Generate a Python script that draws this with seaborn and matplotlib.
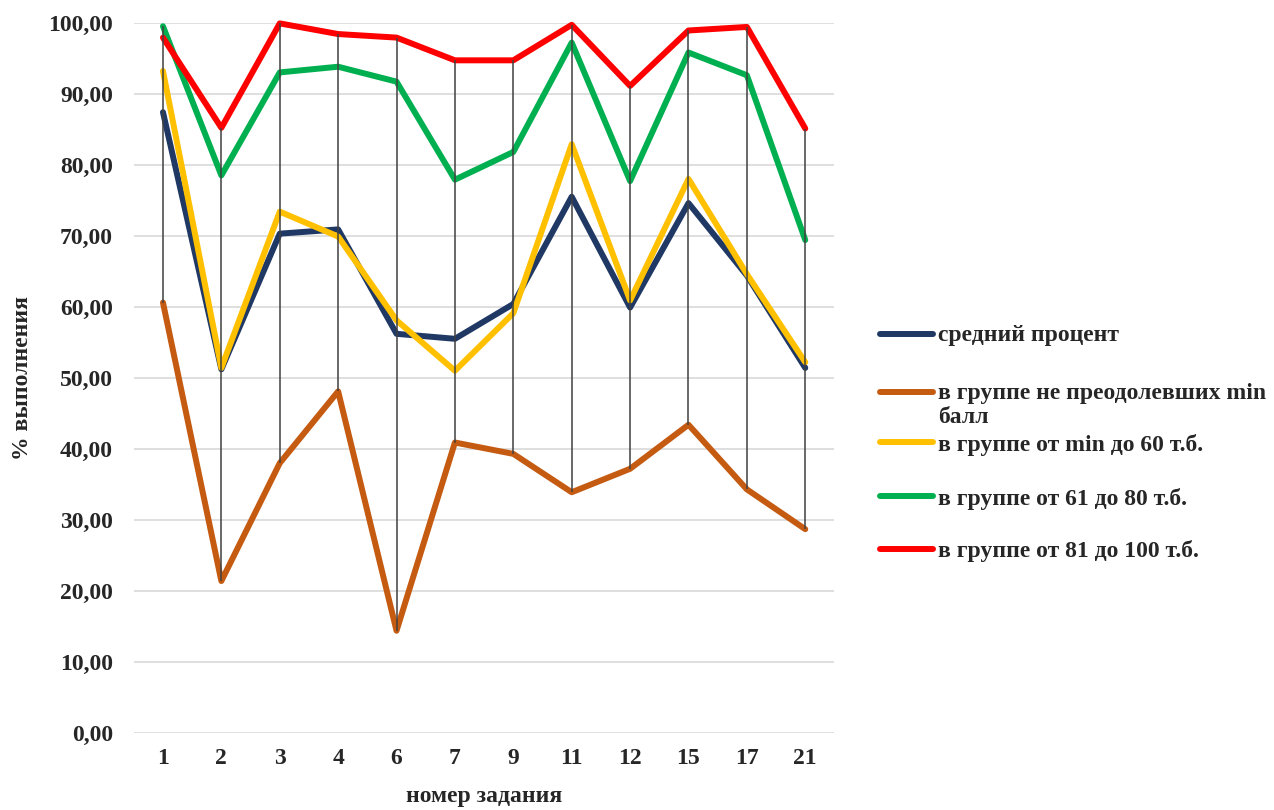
import pandas as pd
import matplotlib.pyplot as plt
import seaborn as sns
from matplotlib.lines import Line2D
from matplotlib.ticker import FuncFormatter

# task numbers (x axis)
tasks = ["1", "2", "3", "4", "6", "7", "9", "11", "12", "15", "17", "21"]

# percent of completion per group
avg = [87.4, 51.2, 70.3, 70.9, 56.2, 55.5, 60.4, 75.5, 59.9, 74.6, 64.4, 51.4]
below_min = [60.6, 21.4, 38.0, 48.1, 14.4, 40.9, 39.3, 33.9, 37.2, 43.4, 34.3, 28.7]
min_60 = [93.2, 51.4, 73.4, 69.9, 58.1, 51.0, 59.1, 82.9, 60.9, 78.0, 64.6, 52.2]
mid_61_80 = [99.5, 78.5, 93.0, 93.8, 91.7, 77.9, 81.8, 97.2, 77.7, 95.8, 92.6, 69.4]
top_81_100 = [97.9, 85.2, 99.9, 98.4, 97.9, 94.7, 94.7, 99.7, 91.1, 98.9, 99.4, 85.1]

labels = [
    "средний процент",
    "в группе не преодолевших min\nбалл",
    "в группе от min до 60 т.б.",
    "в группе от 61 до 80 т.б.",
    "в группе от 81 до 100 т.б.",
]
colors = ["#1F3864", "#C55A11", "#FFC000", "#00B050", "#FF0000"]

wide = pd.DataFrame(
    {labels[0]: avg, labels[1]: below_min, labels[2]: min_60,
     labels[3]: mid_61_80, labels[4]: top_81_100},
    index=pd.Index(tasks, name="task"),
)
df = wide.reset_index().melt(id_vars="task", var_name="group", value_name="value")

sns.set_style("white")
plt.rcParams["font.family"] = ["Liberation Serif", "DejaVu Serif"]
plt.rcParams["font.weight"] = "bold"
fs = 17

fig = plt.figure(figsize=(12.74, 8.1), dpi=100)
ax = fig.add_axes([0.105, 0.095, 0.55, 0.877])

sns.lineplot(data=df, x="task", y="value", hue="group", hue_order=labels,
             palette=colors, linewidth=4.3, sort=False, legend=False, ax=ax)
for ln in ax.lines:
    ln.set_solid_capstyle("round")
    ln.set_solid_joinstyle("round")
    ln.set_clip_on(False)

# high-low lines
ax.vlines(tasks, wide.min(axis=1), wide.max(axis=1), color="#404040",
          linewidth=1.1, zorder=5)

ax.set_ylim(0, 100)
ax.set_xlim(-0.5, len(tasks) - 0.5)
ax.set_yticks(range(0, 101, 10))
ax.yaxis.set_major_formatter(FuncFormatter(lambda v, p: f"{v:.2f}".replace(".", ",")))
ax.grid(axis="y", color="#d9d9d9", linewidth=1.2)
ax.set_axisbelow(True)
for s in ax.spines.values():
    s.set_visible(False)
ax.tick_params(axis="both", length=0, labelsize=fs)
ax.tick_params(axis="y", pad=15)
ax.tick_params(axis="x", pad=11)
for t in ax.get_xticklabels() + ax.get_yticklabels():
    t.set_fontweight("bold")

ax.set_xlabel("номер задания", fontsize=fs, fontweight="bold", labelpad=12)
ax.set_ylabel("% выполнения", fontsize=fs, fontweight="bold", labelpad=11)

# legend drawn by hand: handle aligned with first line of each label
leg_y = [334, 392, 442, 496, 549]
for lab, col, yp in zip(labels, colors, leg_y):
    yf = 1 - yp / 810
    fig.add_artist(Line2D([880 / 1274, 933 / 1274], [yf, yf], color=col,
                          linewidth=4.3, solid_capstyle="round",
                          transform=fig.transFigure))
    fig.text(938 / 1274, yf + 8.5 / 810, lab, fontsize=fs, fontweight="bold",
             ha="left", va="top", linespacing=1.15)

fig.savefig("out.png", dpi=100)
